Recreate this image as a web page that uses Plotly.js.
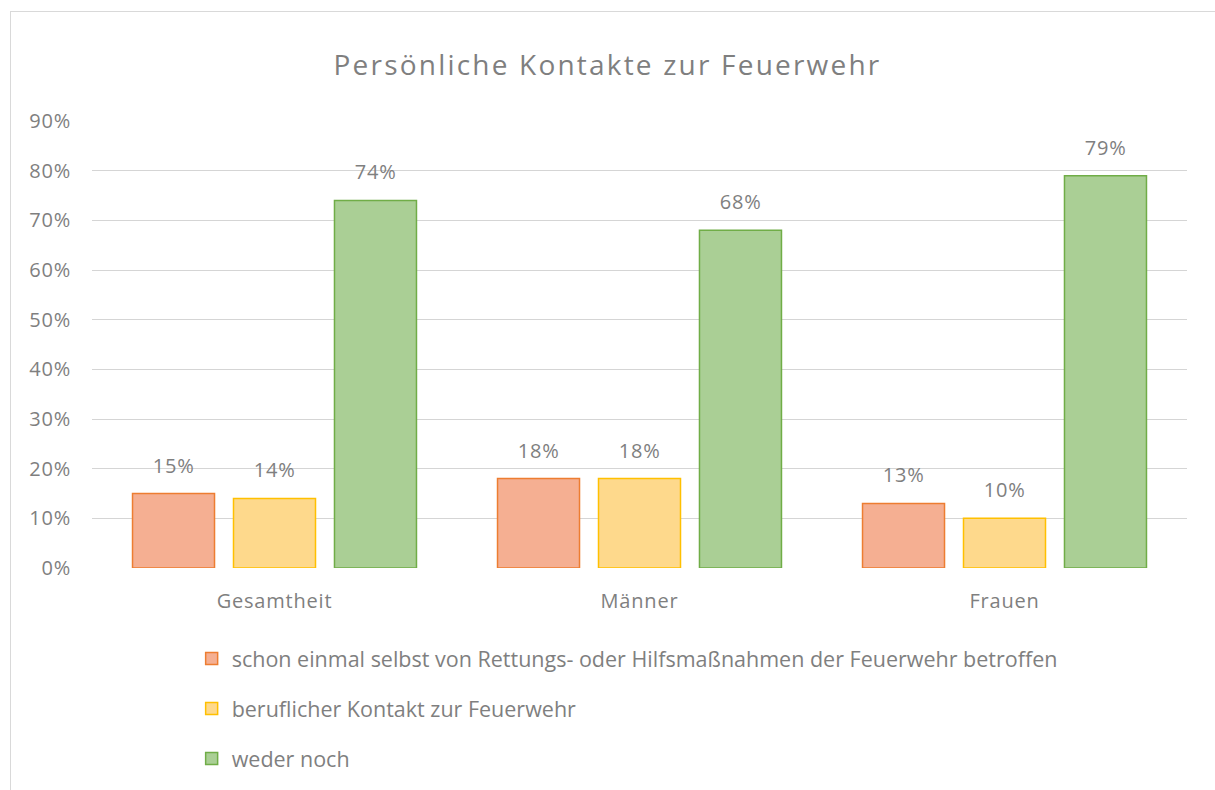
<!DOCTYPE html>
<html>
<head>
<meta charset="utf-8">
<script src="https://cdn.plot.ly/plotly-3.0.1.min.js"></script>
<style>
  html, body { margin: 0; padding: 0; background: #fff; overflow: hidden; }
  #wrap { position: relative; width: 1215px; height: 790px; overflow: hidden; }
  #frame { position: absolute; left: 10px; top: 11px; width: 1400px; height: 1000px;
           border: 1px solid #D9D9D9; pointer-events: none; box-sizing: border-box; }
  #chart .xtick text, #chart .ytick text, #chart .annotation-text { letter-spacing: 0.8px; }
  #chart .gtitle { letter-spacing: 2.2px; }
</style>
</head>
<body>
<div id="wrap">
  <div id="chart" style="width:1215px;height:790px;"></div>
  <div id="frame"></div>
</div>
<script>
const categories = ["Gesamtheit", "Männer", "Frauen"];
const seriesNames = [
  "schon einmal selbst von Rettungs- oder Hilfsmaßnahmen der Feuerwehr betroffen",
  "beruflicher Kontakt zur Feuerwehr",
  "weder noch"
];
const betroffen = [15, 18, 13];
const beruflich = [14, 18, 10];
const wederNoch = [74, 68, 79];
const yTicks = [0, 10, 20, 30, 40, 50, 60, 70, 80, 90];

const seriesValues = [betroffen, beruflich, wederNoch];
const fills = ["#F5AF92", "#FED98C", "#AACF95"];
const borders = ["#ED7D31", "#FFC000", "#70AD47"];
const textColor = "#7F7F7F";
const fontFam = "'Open Sans', Lato, sans-serif";

const traces = seriesValues.map((vals, i) => ({
  type: "bar",
  name: seriesNames[i],
  x: categories,
  y: vals,
  legendgroup: "g" + i,
  marker: { color: fills[i], line: { color: borders[i], width: 1.5 } },
  hoverinfo: "skip"
}));

const slotPx = 101;
const annotations = [];
seriesValues.forEach((vals, i) => {
  vals.forEach((v, j) => {
    annotations.push({
      x: categories[j], y: v, xref: "x", yref: "y",
      text: v + "%", showarrow: false,
      yanchor: "bottom", yshift: 13, xshift: (i - 1) * slotPx,
      font: { family: fontFam, size: 20, color: textColor }
    });
  });
});

const layout = {
  width: 1215, height: 790,
  margin: { l: 92, r: 28, t: 120, b: 222, autoexpand: false },
  paper_bgcolor: "#FFFFFF", plot_bgcolor: "#FFFFFF",
  title: { text: "Persönliche Kontakte zur Feuerwehr", x: 0.5, xanchor: "center",
           y: 1 - 65 / 790, yanchor: "middle",
           font: { family: fontFam, size: 28, color: textColor } },
  barmode: "group", bargap: 0.17, bargroupgap: 0.188,
  xaxis: { type: "category", showgrid: false, zeroline: false, showline: false,
           ticks: "", tickfont: { family: fontFam, size: 20, color: textColor },
           ticklabelstandoff: 19 },
  yaxis: { range: [0, 90.2], tickvals: yTicks, ticktext: yTicks.map(t => t + "%"),
           showgrid: true, gridcolor: "#D5D5D5", gridwidth: 1, zeroline: false,
           showline: false, ticks: "", ticklabelstandoff: 20,
           tickfont: { family: fontFam, size: 20, color: textColor } },
  showlegend: true,
  legend: { orientation: "v", x: 0.091, xanchor: "left",
            yref: "container", y: 1 - 638 / 790, yanchor: "top",
            font: { family: fontFam, size: 21.5, color: textColor },
            tracegroupgap: 19, itemwidth: 30, bgcolor: "rgba(0,0,0,0)" },
  annotations: annotations
};

Plotly.newPlot("chart", traces, layout, { displayModeBar: false, staticPlot: true });
</script>
</body>
</html>
